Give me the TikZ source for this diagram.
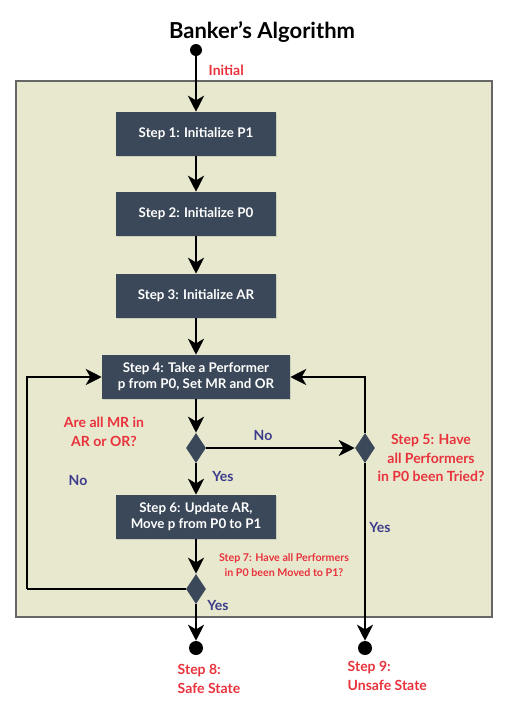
\documentclass[tikz,border=0pt]{standalone}
\usepackage{fontspec}
\setmainfont{Lato}
\usetikzlibrary{arrows.meta,shapes.geometric,shadows}
\definecolor{boxgray}{HTML}{3B4859}
\definecolor{framebg}{HTML}{E8E8CF}
\definecolor{labred}{HTML}{E8323C}
\definecolor{labblue}{HTML}{3C3C8C}
\begin{document}
\begin{tikzpicture}
  [x=0.75pt,y=-0.75pt,font=\bfseries,
   stepbox/.style={rectangle,fill=boxgray,text=white,font=\bfseries\fontsize{10}{12}\selectfont,
     minimum width=120pt,minimum height=33pt,align=center,inner sep=2pt,
     drop shadow={opacity=0.25,shadow xshift=0.8pt,shadow yshift=-0.8pt}},
   test/.style={diamond,fill=boxgray,minimum width=15pt,minimum height=22.5pt,inner sep=0pt},
   dot/.style={circle,fill=black,inner sep=0pt,minimum size=#1},
   redlab/.style={text=labred,align=center,font=\bfseries\fontsize{10.5}{14}\selectfont},
   bluelab/.style={text=labblue,font=\bfseries\fontsize{10.5}{12}\selectfont},
   flow/.style={line width=1.8pt,-{Stealth[length=12pt,width=12pt,inset=3.5pt]}},
   plain/.style={line width=1.8pt}]
  \useasboundingbox (0,0) rectangle (507,711);
  \draw[fill=framebg,draw=black!60,line width=1pt] (16,81) rectangle (492,617);

  \node[font=\bfseries\fontsize{16.5}{18}\selectfont] (title) at (262,32) {Banker’s Algorithm};
  \node[dot=9pt] (start) at (196,50) {};
  \node[redlab,anchor=west] (init) at (204,70) {Initial};

  \node[stepbox] (s1) at (196,134) {Step 1: Initialize P1};
  \node[stepbox] (s2) at (196,214) {Step 2: Initialize P0};
  \node[stepbox] (s3) at (196,296) {Step 3: Initialize AR};
  \node[stepbox,minimum width=141pt] (s4) at (196,377) {Step 4: Take a Performer\\p from P0, Set MR and OR};
  \node[test] (d1) at (196,448) {};
  \node[test] (d2) at (365,448) {};
  \node[stepbox] (s6) at (196,517) {Step 6: Update AR,\\Move p from P0 to P1};
  \node[test] (d3) at (196,589) {};
  \node[dot=10.5pt] (e8) at (196,648) {};
  \node[dot=10.5pt] (e9) at (365,648) {};
  \coordinate (lft) at (27,589);

  \node[redlab] (q1) at (104,432) {Are all MR in\\AR or OR?};
  \node[redlab] (q5) at (431,458) {Step 5: Have\\all Performers\\in P0 been Tried?};
  \node[redlab,font=\bfseries\fontsize{8}{11}\selectfont] (q7) at (284,565) {Step 7: Have all Performers\\in P0 been Moved to P1?};
  \node[redlab,align=left,anchor=west] (l8) at (173,679) {Step 8:\\Safe State};
  \node[redlab,align=left,anchor=west] (l9) at (343,676) {Step 9:\\Unsafe State};

  \node[bluelab] (no1) at (263,435) {No};
  \node[bluelab] (yes1) at (223,476) {Yes};
  \node[bluelab] (no2) at (78,480) {No};
  \node[bluelab] (yes2) at (380,527) {Yes};
  \node[bluelab] (yes3) at (218,605) {Yes};

  \draw[flow] (start) -- (s1);
  \draw[flow] (s1) -- (s2);
  \draw[flow] (s2) -- (s3);
  \draw[flow] (s3) -- (s4);
  \draw[flow] (s4) -- (d1);
  \draw[flow] (d1) -- (d2);
  \draw[flow] (d1) -- (s6);
  \draw[flow] (s6) -- (d3);
  \draw[flow] (d3) -- (e8);
  \draw[flow] (d2) -- (e9);
  \draw[flow] (d2.north) |- (s4.east);
  \draw[plain] (d3.west) -- (lft);
  \draw[flow] (lft) |- (s4.west);
\end{tikzpicture}
\end{document}
